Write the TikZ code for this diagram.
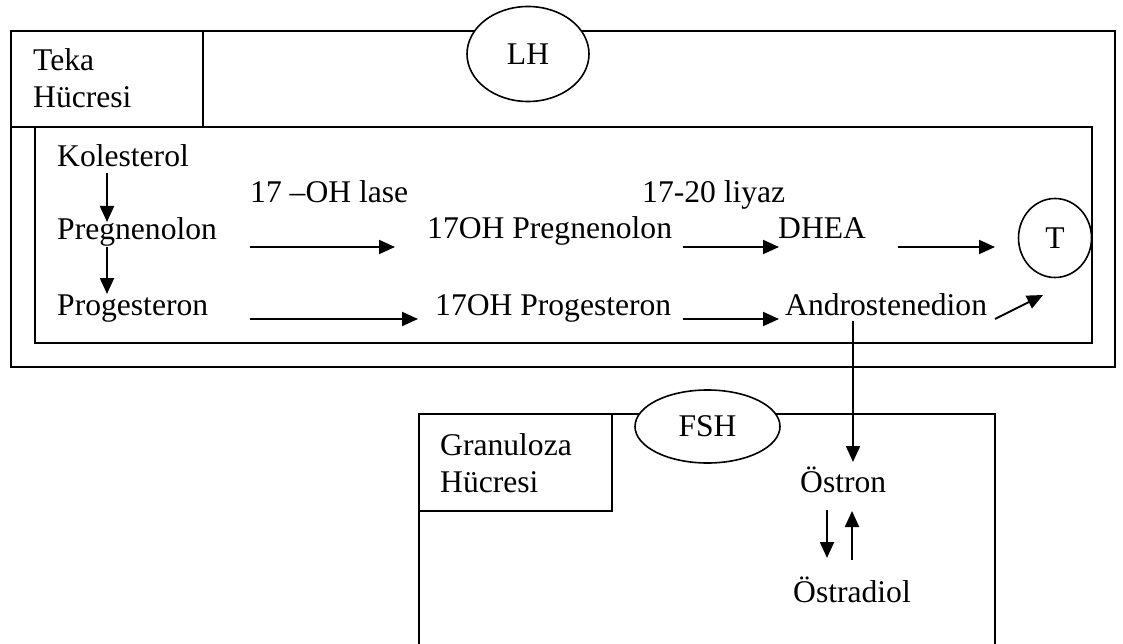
\documentclass[tikz,border=0pt]{standalone}
\usepackage{fontspec}
\setmainfont{Liberation Serif}
\usetikzlibrary{shapes.geometric,arrows.meta}
\tikzset{
  box/.style={draw=black,line width=1.8pt},
  lbl/.style={anchor=base west,inner sep=0pt,font=\fontsize{31.6}{37}\selectfont},
  oval/.style={draw=black,line width=1.6pt,fill=white,ellipse,inner sep=0pt,font=\fontsize{31.6}{37}\selectfont},
  arr/.style={line width=1.9pt,-{Triangle[length=16pt,width=14pt]}}
}
\begin{document}
\begin{tikzpicture}[x=1pt,y=-1pt]
\useasboundingbox (0,0) rectangle (1123,644);
% Teka cell
\draw[box] (11,31) rectangle (1115,367);
\draw[box] (11,31) rectangle (203,127);
\draw[box] (35,127) rectangle (1092,343);
\node[oval,minimum width=122pt,minimum height=95pt] (lh) at (528,54) {LH};
\node[lbl] (teka1) at (33,71) {Teka};
\node[lbl] (teka2) at (33,108) {Hücresi};
% pathway text
\node[lbl] (kol) at (57,167) {Kolesterol};
\node[lbl] (preg) at (57,240) {Pregnenolon};
\node[lbl] (prog) at (57,315) {Progesteron};
\node[lbl] (ohlase) at (250,203) {17 –OH lase};
\node[lbl] (ohpreg) at (427,239) {17OH Pregnenolon};
\node[lbl] (ohprog) at (435,315) {17OH Progesteron};
\node[lbl] (liyaz) at (642,203) {17-20 liyaz};
\node[lbl] (dhea) at (778,239) {DHEA};
\node[lbl] (andro) at (785,315) {Androstenedion};
\node[oval,minimum width=73pt,minimum height=79pt] (t) at (1055,238) {T};
% coordinates for arrow ends
\coordinate (k1) at (107,173);
\coordinate (k2) at (107,222);
\coordinate (p1) at (107,247);
\coordinate (p2) at (107,294);
\coordinate (a1) at (250,247);
\coordinate (a2) at (395,247);
\coordinate (b1) at (683,247);
\coordinate (b2) at (779,247);
\coordinate (c1) at (898,247);
\coordinate (c2) at (995,247);
\coordinate (d1) at (250,319);
\coordinate (d2) at (418,319);
\coordinate (e1) at (683,319);
\coordinate (e2) at (779,319);
\coordinate (f1) at (995,319);
\coordinate (f2) at (1043,295);
\coordinate (g1) at (853,321);
% Granuloza cell
\draw[box] (419,645) -- (419,414) -- (995,414) -- (995,645);
\draw[box] (419,414) rectangle (612,511);
\node[oval,minimum width=145pt,minimum height=73pt] (fsh) at (707.5,426.5) {FSH};
\node[lbl] (gran1) at (440,455) {Granuloza};
\node[lbl] (gran2) at (440,492) {Hücresi};
\node[lbl] (ostron) at (800,492) {Östron};
\node[lbl] (ostradiol) at (793,602) {Östradiol};
\coordinate (g2) at (853,462);
\coordinate (h1) at (827,510);
\coordinate (h2) at (827,558);
\coordinate (i1) at (852,560);
\coordinate (i2) at (852,511);
% arrows
\draw[arr] (k1) -- (k2);
\draw[arr] (p1) -- (p2);
\draw[arr] (a1) -- (a2);
\draw[arr] (b1) -- (b2);
\draw[arr] (c1) -- (c2);
\draw[arr] (d1) -- (d2);
\draw[arr] (e1) -- (e2);
\draw[arr] (f1) -- (f2);
\draw[arr] (g1) -- (g2);
\draw[arr] (h1) -- (h2);
\draw[arr] (i1) -- (i2);
\end{tikzpicture}
\end{document}
